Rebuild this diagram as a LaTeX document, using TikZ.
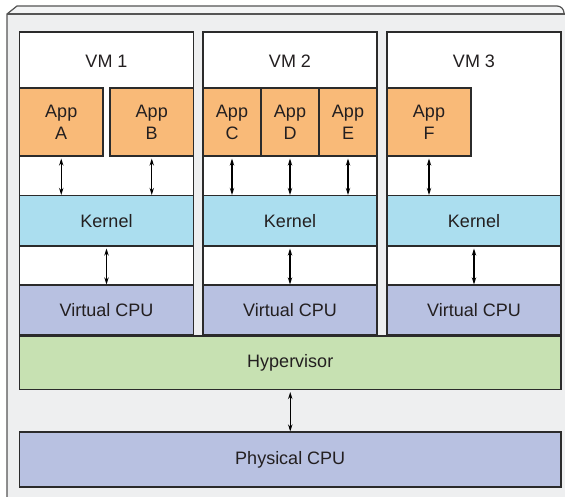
\documentclass[tikz,border=0pt]{standalone}
\usepackage{fontspec}
\setmainfont{Liberation Sans}
\usetikzlibrary{arrows.meta}
\definecolor{bgcol}{HTML}{EEEFF0}
\definecolor{edgecol}{HTML}{555555}
\definecolor{linecol}{HTML}{2B2B2B}
\definecolor{appcol}{HTML}{F9BA78}
\definecolor{kercol}{HTML}{ABDEEF}
\definecolor{cpucol}{HTML}{B8C1E1}
\definecolor{hypcol}{HTML}{C7E1B2}
\definecolor{txtcol}{HTML}{231F20}
\tikzset{
  box/.style={draw=linecol, line width=1.3pt, rectangle, inner sep=0pt, text=txtcol,
    font=\fontsize{18}{22}\selectfont, align=center},
  vmbox/.style={box, fill=white, minimum width=174pt, minimum height=303pt},
  appbox/.style={box, fill=appcol, minimum height=68pt},
  kerbox/.style={box, fill=kercol, minimum width=174pt, minimum height=50.5pt},
  cpubox/.style={box, fill=cpucol, minimum width=174pt, minimum height=50pt},
  widebox/.style={box, minimum width=541.5pt},
  lbl/.style={text=txtcol, font=\fontsize{18}{22}\selectfont, inner sep=0pt},
  biarrow/.style={{Stealth[length=7pt,width=4.5pt]}-{Stealth[length=7pt,width=4.5pt]}, line width=1.1pt, draw=black, shorten <=2pt},
}
\begin{document}
\begin{tikzpicture}[x=1pt, y=-1pt]
\useasboundingbox (0,0) rectangle (565,497);
% outer 3D casing
\fill[bgcol] (7,14) -- (565,14) -- (565,497) -- (7,497) -- cycle;
\fill[bgcol!70!white] (7,14) -- (17,6) -- (558,6) to[out=0,in=90] (564,12) -- (565,14) -- cycle;
\draw[edgecol, line width=1.2pt] (7,497) -- (7,14) -- (17,6) -- (557,6) to[out=0,in=90] (564,13);
\draw[edgecol, line width=1.2pt] (7,14) -- (565,14);

% VM boxes
\node[vmbox] (vm1) at (106.5,183.5) {};
\node[vmbox] (vm2) at (290,183.5) {};
\node[vmbox] (vm3) at (474,183.5) {};
\node[lbl] (vm1l) at (106.5,61) {VM 1};
\node[lbl] (vm2l) at (290,61) {VM 2};
\node[lbl] (vm3l) at (474,61) {VM 3};

% apps
\node[appbox, minimum width=83.5pt] (appA) at (61.25,122) {App\\A};
\node[appbox, minimum width=83.5pt] (appB) at (151.75,122) {App\\B};
\node[appbox, minimum width=58pt] (appC) at (232,122) {App\\C};
\node[appbox, minimum width=58pt] (appD) at (290,122) {App\\D};
\node[appbox, minimum width=58pt] (appE) at (348,122) {App\\E};
\node[appbox, minimum width=84pt] (appF) at (429,122) {App\\F};

% kernels
\node[kerbox] (k1) at (106.5,220.75) {Kernel};
\node[kerbox] (k2) at (290,220.75) {Kernel};
\node[kerbox] (k3) at (474,220.75) {Kernel};

% virtual cpus
\node[cpubox] (c1) at (106.5,310) {Virtual CPU};
\node[cpubox] (c2) at (290,310) {Virtual CPU};
\node[cpubox] (c3) at (474,310) {Virtual CPU};

% hypervisor and physical cpu
\node[widebox, fill=hypcol, minimum height=53.5pt] (hyp) at (290.25,362.75) {Hypervisor};
\node[widebox, fill=cpucol, minimum height=55pt] (phys) at (290.25,459.5) {Physical CPU};

% arrows app -> kernel
\foreach \a/\k in {appA/k1, appB/k1, appC/k2, appD/k2, appE/k2, appF/k3}{
  \draw[biarrow] (\a.south) -- (\a.south |- \k.north);
}
% arrows kernel -> vcpu
\foreach \k/\c in {k1/c1, k2/c2, k3/c3}{
  \draw[biarrow] (\k.south) -- (\c.north);
}
% hypervisor -> physical
\draw[biarrow] (hyp.south) -- (phys.north);
\end{tikzpicture}
\end{document}
